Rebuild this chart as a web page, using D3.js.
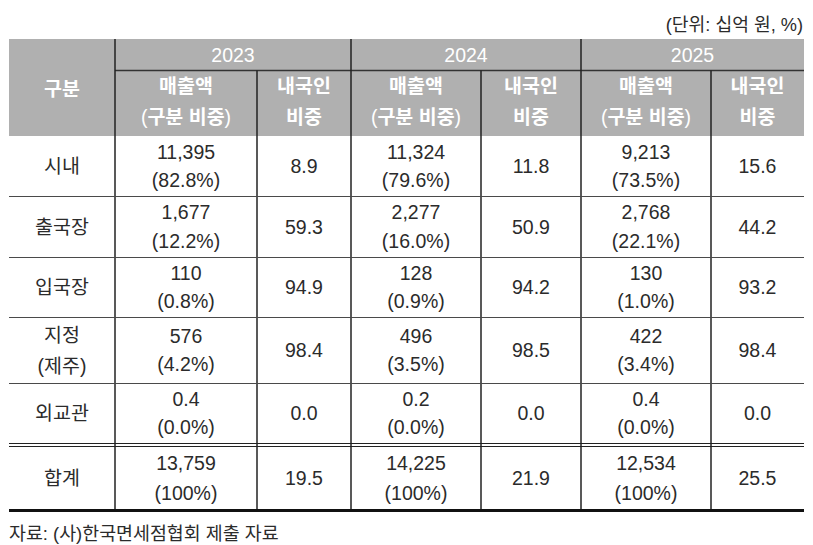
<!DOCTYPE html>
<html><head><meta charset="utf-8">
<script src="https://cdn.jsdelivr.net/npm/d3@7"></script>
<style>
html,body{margin:0;padding:0;background:#fff;}
svg text{font-family:"Liberation Sans","Noto Sans CJK KR",sans-serif;}
</style></head>
<body><svg id="c" width="813" height="545"></svg>
<script>
// ---- data ----
const years = ["2023", "2024", "2025"];
const categories = ["시내", "출국장", "입국장", "지정\n(제주)", "외교관"];
const sales2023 = ["11,395", "1,677", "110", "576", "0.4"];
const share2023 = ["82.8%", "12.2%", "0.8%", "4.2%", "0.0%"];
const domestic2023 = ["8.9", "59.3", "94.9", "98.4", "0.0"];
const sales2024 = ["11,324", "2,277", "128", "496", "0.2"];
const share2024 = ["79.6%", "16.0%", "0.9%", "3.5%", "0.0%"];
const domestic2024 = ["11.8", "50.9", "94.2", "98.5", "0.0"];
const sales2025 = ["9,213", "2,768", "130", "422", "0.4"];
const share2025 = ["73.5%", "22.1%", "1.0%", "3.4%", "0.0%"];
const domestic2025 = ["15.6", "44.2", "93.2", "98.4", "0.0"];
const totalLabel = "합계";
const totalSales = ["13,759", "14,225", "12,534"];
const totalShare = ["100%", "100%", "100%"];
const totalDomestic = ["19.5", "21.9", "25.5"];
const headerCategory = "구분";
const headerSales = "매출액\n(구분 비중)";
const headerDomestic = "내국인\n비중";
const unitText = "(단위: 십억 원, %)";
const sourceText = "자료: (사)한국면세점협회 제출 자료";

// ---- layout ----
const colEdges = [9, 115, 257, 351, 481, 581, 711, 804];
const headTop = 39, yearLine = 70.5, headBottom = 136;
const rowEdges = [136, 196, 257, 317, 383, 443];
const totalTop = 446, totalBottom = 510;
const headerFill = "#b0b0b0";
const textColor = "#2b2b2b";
const fs = 19.5;

const svg = d3.select("#c");
const salesData = [sales2023, sales2024, sales2025];
const shareData = [share2023, share2024, share2025];
const domData = [domestic2023, domestic2024, domestic2025];

const colX = d3.scaleOrdinal().domain(d3.range(7)).range(d3.range(7).map(i => (colEdges[i] + colEdges[i + 1]) / 2));

function runs(s) {
  const out = [];
  const re = /([\uAC00-\uD7A3]+)|([^\uAC00-\uD7A3]+)/g;
  let m;
  while ((m = re.exec(s))) out.push({t: m[0], h: !!m[1]});
  return out;
}

function multi(g, x, y, lines, gap, opts) {
  const n = lines.length;
  const t = g.append("text").attr("x", x).attr("text-anchor", "middle")
    .attr("dominant-baseline", "central")
    .attr("fill", opts.fill).attr("font-size", opts.size);
  lines.forEach((l, i) => {
    const ts = t.append("tspan").attr("x", x).attr("y", y + (i - (n - 1) / 2) * gap);
    runs(l).forEach(r => {
      const sp = ts.append("tspan").text(r.t);
      if (opts.boldHangul && r.h) sp.attr("font-weight", "bold");
    });
  });
}

// header background
svg.append("rect").attr("x", colEdges[0]).attr("y", headTop)
  .attr("width", colEdges[7] - colEdges[0]).attr("height", headBottom - headTop).attr("fill", headerFill);

const hg = svg.append("g");
const hOpts = {fill: "#fff", size: fs, boldHangul: true};
multi(hg, colX(0), 89, [headerCategory], 0, hOpts);
years.forEach((yr, i) => {
  const x0 = colEdges[1 + 2 * i], x1 = colEdges[3 + 2 * i];
  multi(hg, (x0 + x1) / 2, (headTop + yearLine) / 2, [yr], 0, hOpts);
  multi(hg, colX(1 + 2 * i), 101.5, headerSales.split("\n"), 31, hOpts);
  multi(hg, colX(2 + 2 * i), 101.5, headerDomestic.split("\n"), 31, hOpts);
});

// body
const bg = svg.append("g");
const bOpts = {fill: textColor, size: fs};
categories.forEach((c, r) => {
  const cy = (rowEdges[r] + rowEdges[r + 1]) / 2;
  multi(bg, colX(0), cy, c.split("\n"), 31, bOpts);
  years.forEach((yr, i) => {
    multi(bg, colX(1 + 2 * i), cy, [salesData[i][r], "(" + shareData[i][r] + ")"], 28.5, bOpts);
    multi(bg, colX(2 + 2 * i), cy, [domData[i][r]], 0, bOpts);
  });
});
const tcy = (totalTop + totalBottom) / 2;
multi(bg, colX(0), tcy, [totalLabel], 0, bOpts);
years.forEach((yr, i) => {
  multi(bg, colX(1 + 2 * i), tcy, [totalSales[i], "(" + totalShare[i] + ")"], 30, bOpts);
  multi(bg, colX(2 + 2 * i), tcy, [totalDomestic[i]], 0, bOpts);
});

// lines
const lg = svg.append("g");
lg.append("line").attr("x1", colEdges[1]).attr("x2", colEdges[7]).attr("y1", yearLine).attr("y2", yearLine)
  .attr("stroke", "#333").attr("stroke-width", 1.6);
[1, 3, 5].forEach(i => {
  lg.append("line").attr("x1", colEdges[i]).attr("x2", colEdges[i]).attr("y1", headTop).attr("y2", totalBottom)
    .attr("stroke", "#222").attr("stroke-width", 1.5);
});
[2, 4, 6].forEach(i => {
  lg.append("line").attr("x1", colEdges[i]).attr("x2", colEdges[i]).attr("y1", yearLine).attr("y2", totalBottom)
    .attr("stroke", "#222").attr("stroke-width", 1.5);
});
rowEdges.slice(1, -1).forEach(y => {
  lg.append("line").attr("x1", colEdges[0]).attr("x2", colEdges[7]).attr("y1", y + 0.5).attr("y2", y + 0.5)
    .attr("stroke", "#4a4a4a").attr("stroke-width", 1.2);
});
[443.5, 446.5].forEach(y => {
  lg.append("line").attr("x1", colEdges[0]).attr("x2", colEdges[7]).attr("y1", y).attr("y2", y)
    .attr("stroke", "#222").attr("stroke-width", 1.2);
});
lg.append("line").attr("x1", colEdges[0]).attr("x2", colEdges[7]).attr("y1", totalBottom + 0.5).attr("y2", totalBottom + 0.5)
  .attr("stroke", "#111").attr("stroke-width", 3);

// unit and source
svg.append("text").attr("x", 803).attr("y", 25).attr("text-anchor", "end").attr("dominant-baseline", "central")
  .attr("font-size", 18.2).attr("fill", textColor).text(unitText);
svg.append("text").attr("x", 9).attr("y", 533).attr("dominant-baseline", "central")
  .attr("font-size", 18.4).attr("fill", textColor).text(sourceText);
</script></body></html>
